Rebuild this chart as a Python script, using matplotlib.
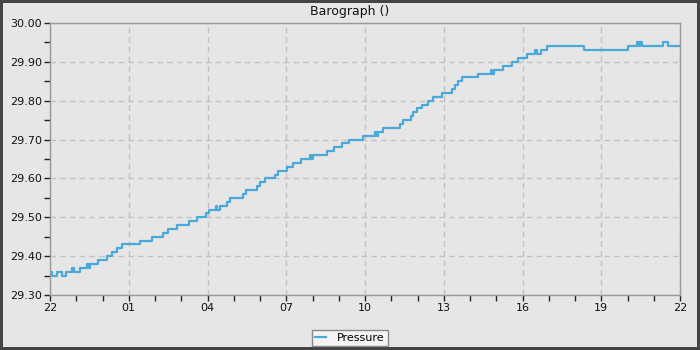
import matplotlib
matplotlib.use("Agg")
import matplotlib.pyplot as plt
from matplotlib.ticker import MultipleLocator, FuncFormatter

# hours since 22:00 and pressure (inHg)
hours = [0.00, 0.06, 0.27, 0.45, 0.60, 0.83, 0.93, 1.14, 1.42, 1.47, 1.52, 1.82,
         2.16, 2.35, 2.54, 2.73, 3.43, 3.90, 4.32, 4.48, 4.83, 5.31, 5.61, 5.93,
         6.06, 6.31, 6.36, 6.48, 6.73, 6.86, 7.34, 7.47, 7.87, 8.00, 8.19, 8.57,
         8.70, 9.04, 9.27, 9.55, 9.90, 9.95, 10.00, 10.54, 10.82, 11.11, 11.39,
         11.94, 12.38, 12.46, 12.48, 12.67, 13.33, 13.46, 13.75, 13.82, 13.97,
         14.16, 14.41, 14.60, 14.92, 15.30, 15.43, 15.56, 15.68, 16.32, 16.79,
         16.85, 16.90, 17.27, 17.59, 17.84, 18.18, 18.48, 18.56, 18.69, 18.92,
         20.34, 22.01, 22.35, 22.44, 22.48, 22.54, 23.36, 23.55, 24.00]
pressure = [29.36, 29.35, 29.36, 29.35, 29.36, 29.37, 29.36, 29.37, 29.38, 29.37, 29.38, 29.39,
            29.40, 29.41, 29.42, 29.43, 29.44, 29.45, 29.46, 29.47, 29.48, 29.49, 29.50, 29.51,
            29.52, 29.53, 29.52, 29.53, 29.54, 29.55, 29.56, 29.57, 29.58, 29.59, 29.60, 29.61,
            29.62, 29.63, 29.64, 29.65, 29.66, 29.65, 29.66, 29.67, 29.68, 29.69, 29.70,
            29.71, 29.72, 29.71, 29.72, 29.73, 29.74, 29.75, 29.76, 29.77, 29.78,
            29.79, 29.80, 29.81, 29.82, 29.83, 29.84, 29.85, 29.86, 29.87, 29.88,
            29.87, 29.88, 29.89, 29.90, 29.91, 29.92, 29.93, 29.92, 29.93, 29.94,
            29.93, 29.94, 29.95, 29.94, 29.95, 29.94, 29.95, 29.94, 29.94]
start_hour = 22

bg = '#e6e6e6'
fig = plt.figure(figsize=(7, 3.5), dpi=100, facecolor=bg)
fig.patch.set_edgecolor('#444444')
fig.patch.set_linewidth(3)
ax = fig.add_axes([50 / 700, 55 / 350, 630 / 700, 272 / 350], facecolor=bg)

ax.plot(hours, pressure, drawstyle='steps-post', color='#4ba9d9', lw=1.6, label='Pressure')

ax.set_xlim(0, 24)
ax.set_ylim(29.30, 30.00)
ax.xaxis.set_major_locator(MultipleLocator(3))
ax.xaxis.set_minor_locator(MultipleLocator(1))
ax.xaxis.set_major_formatter(FuncFormatter(lambda v, p: '%02d' % ((start_hour + int(round(v))) % 24)))
ax.yaxis.set_major_locator(MultipleLocator(0.1))
ax.yaxis.set_minor_locator(MultipleLocator(0.05))
ax.yaxis.set_major_formatter(FuncFormatter(lambda v, p: '%.2f' % v))
ax.tick_params(which='both', direction='out', length=4, width=1, color='#222222',
               labelsize=8, labelcolor='#111111', pad=2)
ax.grid(True, which='major', linestyle=(0, (4, 3)), color='#c2c2c2', lw=1)
for s in ax.spines.values():
    s.set_color('#999999')
    s.set_linewidth(1)

fig.text(0.5, 1 - 11 / 350, 'Barograph ()', ha='center', va='center', fontsize=9, color='#111111')

leg = fig.legend(loc='center', bbox_to_anchor=(350 / 700, 1 - 338 / 350), fontsize=8,
                 frameon=True, fancybox=False, handlelength=1.0, borderpad=0.3,
                 handletextpad=1.0)
leg.get_frame().set_facecolor('#f4f4f4')
leg.get_frame().set_edgecolor('#888888')
leg.get_frame().set_alpha(1)

fig.savefig('out.png', dpi=100, facecolor=bg)
